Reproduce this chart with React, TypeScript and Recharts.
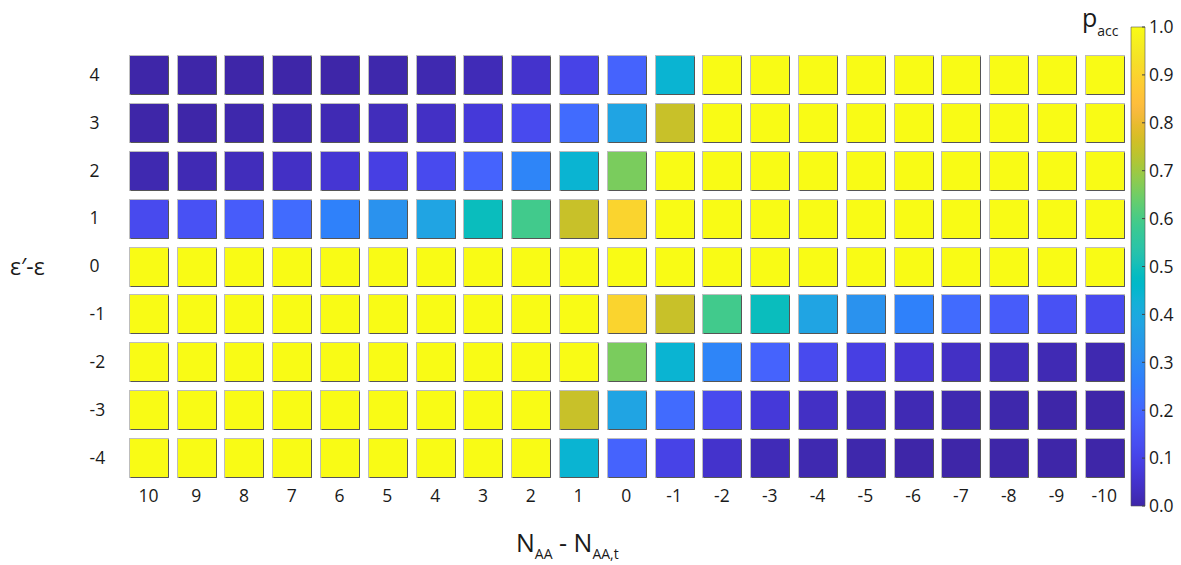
import React from "react";
import {
  ScatterChart,
  Scatter,
  XAxis,
  YAxis,
  BarChart,
  Bar,
} from "recharts";

// Column categories: change in number of AA contacts
const N_VALUES = [10, 9, 8, 7, 6, 5, 4, 3, 2, 1, 0, -1, -2, -3, -4, -5, -6, -7, -8, -9, -10];
// Row categories: energy difference
const DELTA_E = [4, 3, 2, 1, 0, -1, -2, -3, -4];

// Acceptance probability per row (columns follow N_VALUES)
const P_DE_4 = [0, 0, 0, 0, 0, 0.005, 0.01, 0.02, 0.05, 0.1, 0.19, 0.44, 1, 1, 1, 1, 1, 1, 1, 1, 1];
const P_DE_3 = [0, 0, 0.005, 0.01, 0.015, 0.025, 0.04, 0.07, 0.12, 0.21, 0.38, 0.75, 1, 1, 1, 1, 1, 1, 1, 1, 1];
const P_DE_2 = [0.01, 0.015, 0.025, 0.04, 0.06, 0.09, 0.12, 0.19, 0.28, 0.44, 0.66, 1, 1, 1, 1, 1, 1, 1, 1, 1, 1];
const P_DE_1 = [0.12, 0.14, 0.17, 0.21, 0.27, 0.32, 0.38, 0.49, 0.59, 0.75, 0.9, 1, 1, 1, 1, 1, 1, 1, 1, 1, 1];
const P_DE_0 = [1, 1, 1, 1, 1, 1, 1, 1, 1, 1, 1, 1, 1, 1, 1, 1, 1, 1, 1, 1, 1];
const P_DE_M1 = [1, 1, 1, 1, 1, 1, 1, 1, 1, 1, 0.9, 0.75, 0.59, 0.49, 0.38, 0.32, 0.27, 0.21, 0.17, 0.14, 0.12];
const P_DE_M2 = [1, 1, 1, 1, 1, 1, 1, 1, 1, 1, 0.66, 0.44, 0.28, 0.19, 0.12, 0.09, 0.06, 0.04, 0.025, 0.015, 0.01];
const P_DE_M3 = [1, 1, 1, 1, 1, 1, 1, 1, 1, 0.75, 0.38, 0.21, 0.12, 0.07, 0.04, 0.025, 0.015, 0.01, 0.005, 0, 0];
const P_DE_M4 = [1, 1, 1, 1, 1, 1, 1, 1, 1, 0.44, 0.19, 0.1, 0.05, 0.02, 0.01, 0.005, 0, 0, 0, 0, 0];

const P_ROWS = [P_DE_4, P_DE_3, P_DE_2, P_DE_1, P_DE_0, P_DE_M1, P_DE_M2, P_DE_M3, P_DE_M4];

// Colorbar tick values
const CB_TICKS = [0, 0.1, 0.2, 0.3, 0.4, 0.5, 0.6, 0.7, 0.8, 0.9, 1.0];

// Parula colormap, 64 entries
const PARULA: number[][] = [
  [0.2422, 0.1504, 0.6603], [0.2504, 0.165, 0.7076], [0.2578, 0.1818, 0.7511], [0.2647, 0.1978, 0.7952],
  [0.2706, 0.2147, 0.8364], [0.2751, 0.2342, 0.871], [0.2783, 0.2559, 0.8991], [0.2803, 0.2782, 0.9221],
  [0.2813, 0.3006, 0.9414], [0.281, 0.3228, 0.9579], [0.2795, 0.3447, 0.9717], [0.276, 0.3667, 0.9829],
  [0.2699, 0.3892, 0.9906], [0.2602, 0.4123, 0.9952], [0.244, 0.4358, 0.9988], [0.2206, 0.4603, 0.9973],
  [0.1963, 0.4847, 0.9892], [0.1834, 0.5074, 0.9798], [0.1786, 0.5289, 0.9682], [0.1764, 0.5499, 0.952],
  [0.1687, 0.5703, 0.9359], [0.154, 0.5902, 0.9218], [0.146, 0.6091, 0.9079], [0.138, 0.6276, 0.8973],
  [0.1248, 0.6459, 0.8883], [0.1113, 0.6635, 0.8763], [0.0952, 0.6798, 0.8598], [0.0689, 0.6948, 0.8394],
  [0.0297, 0.7082, 0.8163], [0.0036, 0.7203, 0.7917], [0.0067, 0.7312, 0.766], [0.0433, 0.7411, 0.7394],
  [0.0964, 0.75, 0.712], [0.1408, 0.7584, 0.6842], [0.1717, 0.767, 0.6554], [0.1938, 0.7758, 0.6251],
  [0.2161, 0.7843, 0.5923], [0.247, 0.7918, 0.5567], [0.2906, 0.7973, 0.5188], [0.3406, 0.8008, 0.4789],
  [0.3909, 0.8029, 0.4354], [0.4456, 0.8024, 0.3909], [0.5044, 0.7993, 0.348], [0.5616, 0.7942, 0.3045],
  [0.6174, 0.7876, 0.2612], [0.672, 0.7793, 0.2227], [0.7242, 0.7698, 0.191], [0.7738, 0.7598, 0.1646],
  [0.8203, 0.7498, 0.1535], [0.8634, 0.7406, 0.1596], [0.9035, 0.733, 0.1774], [0.9393, 0.7288, 0.21],
  [0.9728, 0.7298, 0.2394], [0.9956, 0.7434, 0.2371], [0.997, 0.7659, 0.2199], [0.9952, 0.7893, 0.2029],
  [0.9892, 0.8136, 0.1883], [0.9786, 0.8386, 0.1766], [0.9676, 0.8639, 0.1643], [0.961, 0.889, 0.1537],
  [0.9597, 0.9135, 0.1423], [0.9628, 0.9373, 0.1265], [0.9691, 0.9606, 0.1064], [0.9769, 0.9839, 0.0805],
];

const toHex = (c: number[]) =>
  "#" + c.map((v) => Math.round(v * 255).toString(16).padStart(2, "0")).join("");

function parula(v: number): string {
  const t = Math.max(0, Math.min(1, v)) * (PARULA.length - 1);
  const i = Math.floor(t);
  const f = t - i;
  const a = PARULA[i];
  const b = PARULA[Math.min(i + 1, PARULA.length - 1)];
  return toHex([0, 1, 2].map((k) => a[k] + (b[k] - a[k]) * f));
}

const CELLS = DELTA_E.flatMap((e, r) =>
  N_VALUES.map((n, c) => ({ n, e, p: P_ROWS[r][c] }))
);

const FONT = "'Open Sans', 'DejaVu Sans', sans-serif";
const TEXT = "#1a1a1a";
const CELL = 39;

const HeatCell = (props: any) => {
  const { cx, cy, payload } = props;
  if (cx == null || cy == null) return null;
  const x = Math.round(cx - CELL / 2) + 0.5;
  const y = Math.round(cy - CELL / 2) + 0.5;
  return (
    <g>
      <rect x={x} y={y} width={CELL} height={CELL} fill={parula(payload.p)} stroke="#bdbdbd" strokeWidth={1} />
      <path
        d={`M${x + CELL} ${y + 1} V${y + CELL} H${x + 1}`}
        fill="none"
        stroke="rgba(0,0,0,0.55)"
        strokeWidth={1}
      />
    </g>
  );
};

const XTick = (props: any) => {
  const { x, y, payload } = props;
  return (
    <text x={x} y={y} dy="0.71em" textAnchor="middle" fontFamily={FONT} fontSize={17.5} fill={TEXT}>
      {payload.value}
    </text>
  );
};

const YTick = (props: any) => {
  const { x, y, payload } = props;
  return (
    <text x={x} y={y} dy="0.36em" textAnchor="start" fontFamily={FONT} fontSize={17.5} fill={TEXT}>
      {payload.value}
    </text>
  );
};

const XTitle = () => (
  <text x={516} y={552} fontFamily={FONT} fontSize={25} fill={TEXT}>
    <tspan>N</tspan>
    <tspan fontSize={14} dy={7}>AA</tspan>
    <tspan dy={-7}> - N</tspan>
    <tspan fontSize={14} dy={7}>AA,t</tspan>
  </text>
);

const YTitle = () => (
  <text x={10} y={274.5} fontFamily={FONT} fontSize={23} fill={TEXT}>
    ε′-ε
  </text>
);

const CbTick = (props: any) => {
  const { x, y, payload } = props;
  return (
    <g>
      <line x1={x - 7} x2={x - 4} y1={y} y2={y} stroke="#444" strokeWidth={1} />
      <text x={x} y={y} dy="0.36em" textAnchor="start" fontFamily={FONT} fontSize={17.5} fill={TEXT}>
        {Number(payload.value).toFixed(1)}
      </text>
    </g>
  );
};

const CbTitle = () => (
  <text x={22} y={27} fontFamily={FONT} fontSize={25} fill={TEXT}>
    <tspan>p</tspan>
    <tspan fontSize={14} dy={9}>acc</tspan>
  </text>
);

const CB_DATA = [{ k: "p", v: 1 }];

export default function App() {
  return (
    <div style={{ position: "absolute", left: 0, top: 0, width: 1181, height: 565, background: "#fff" }}>
      <ScatterChart
        width={1181}
        height={565}
        margin={{ top: 50.5, right: 52.8, bottom: 43.5, left: 0 }}
      >
        <XAxis
          type="number"
          dataKey="n"
          domain={[-10.5, 10.5]}
          reversed
          ticks={N_VALUES}
          interval={0}
          axisLine={false}
          tickLine={false}
          tickSize={0}
          tickMargin={8}
          height={40}
          tick={<XTick />}
          label={{ content: <XTitle /> }}
        />
        <YAxis
          type="number"
          dataKey="e"
          domain={[-4.5, 4.5]}
          ticks={DELTA_E}
          interval={0}
          axisLine={false}
          tickLine={false}
          tickSize={0}
          tickMargin={35}
          width={124.5}
          tick={<YTick />}
          label={{ content: <YTitle /> }}
        />
        <Scatter data={CELLS} shape={<HeatCell />} isAnimationActive={false} />
      </ScatterChart>

      <div style={{ position: "absolute", left: 1060, top: 0 }}>
        <BarChart
          width={121}
          height={565}
          data={CB_DATA}
          margin={{ top: 27, bottom: 59, left: 71, right: 0 }}
          barCategoryGap={0}
        >
          <defs>
            <linearGradient id="parulaBar" x1="0" y1="1" x2="0" y2="0">
              {PARULA.map((c, i) => (
                <stop key={i} offset={i / (PARULA.length - 1)} stopColor={toHex(c)} />
              ))}
            </linearGradient>
          </defs>
          <XAxis dataKey="k" hide />
          <YAxis
            orientation="right"
            type="number"
            domain={[0, 1]}
            ticks={CB_TICKS}
            interval={0}
            width={36}
            axisLine={false}
            tickLine={false}
            tickSize={0}
            tickMargin={4}
            tick={<CbTick />}
            label={{ content: <CbTitle /> }}
          />
          <Bar dataKey="v" fill="url(#parulaBar)" stroke="#555" strokeWidth={0.6} isAnimationActive={false} />
        </BarChart>
      </div>
    </div>
  );
}
